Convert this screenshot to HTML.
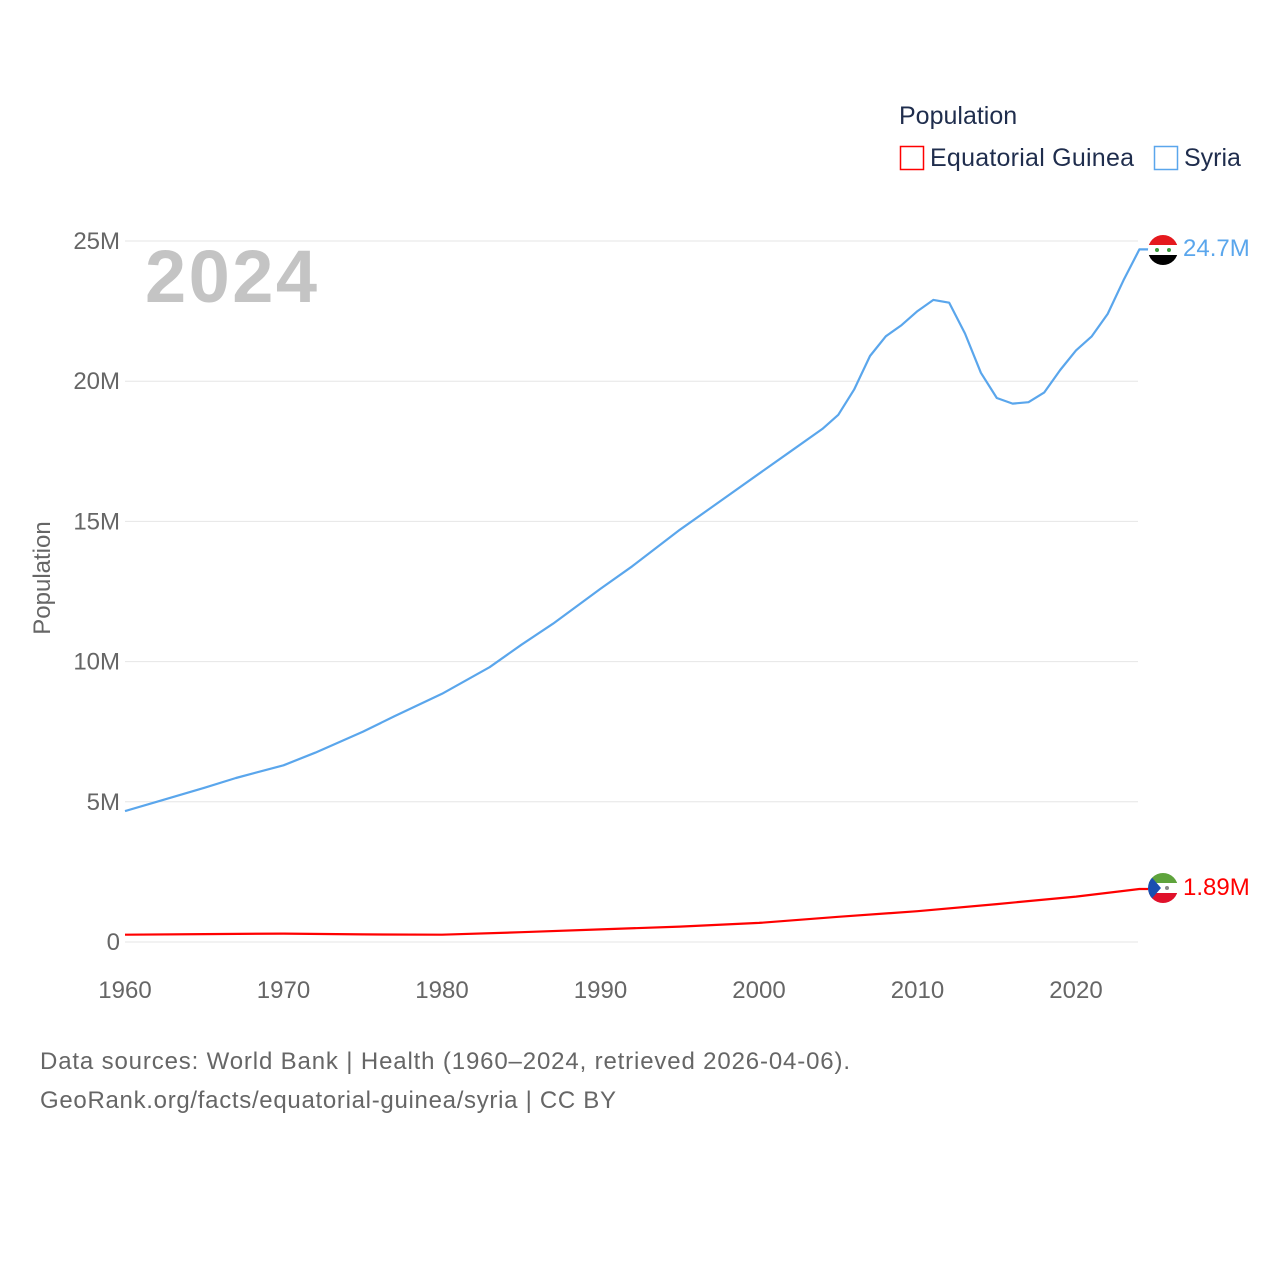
<!DOCTYPE html>
<html><head><meta charset="utf-8"><style>
body{margin:0;background:#fff;font-family:"Liberation Sans",sans-serif;}
svg text{font-family:"Liberation Sans",sans-serif;}
</style></head><body>
<svg id="chart" width="1280" height="1280" xmlns="http://www.w3.org/2000/svg">
<defs>
<clipPath id="c1"><circle cx="1163" cy="250" r="15"/></clipPath>
<clipPath id="c2"><circle cx="1163" cy="888" r="15"/></clipPath>
</defs>
<g id="grid"></g>
<text x="145" y="302" font-size="74" font-weight="bold" fill="#c4c4c4" textLength="172">2024</text>
<text transform="translate(50,578) rotate(-90)" text-anchor="middle" font-size="24" fill="#666">Population</text>
<g id="series"></g>
<g>
<text x="899" y="124" font-size="25" fill="#1f2d4d">Population</text>
<rect x="900.5" y="146.5" width="23" height="23" fill="none" stroke="#ff0000" stroke-width="1.5"/>
<text x="930" y="166" font-size="25" fill="#1f2d4d" textLength="204">Equatorial Guinea</text>
<rect x="1154.5" y="146.5" width="23" height="23" fill="none" stroke="#5aa6ec" stroke-width="1.5"/>
<text x="1184" y="166" font-size="25" fill="#1f2d4d">Syria</text>
</g>
<g clip-path="url(#c1)">
<rect x="1148" y="235" width="30" height="10" fill="#e5191e"/><rect x="1148" y="245" width="30" height="10" fill="#fff"/><rect x="1148" y="255" width="30" height="10" fill="#000"/>
<circle cx="1157" cy="250" r="2" fill="#3a9a3a"/><circle cx="1169" cy="250" r="2" fill="#3a9a3a"/>
</g>
<g clip-path="url(#c2)">
<rect x="1148" y="873" width="30" height="10" fill="#5ea33c"/><rect x="1148" y="883" width="30" height="10" fill="#fff"/><rect x="1148" y="893" width="30" height="10" fill="#e0112b"/>
<polygon points="1148,873 1161,888 1148,903" fill="#1a4fb0"/><circle cx="1167" cy="888" r="2" fill="#888"/>
</g>
<text x="1183" y="256" font-size="24" fill="#5aa6ec">24.7M</text>
<text x="1183" y="895" font-size="24" fill="#ff0000">1.89M</text>
<text x="40" y="1069" font-size="24" fill="#666" textLength="810">Data sources: World Bank | Health (1960–2024, retrieved 2026-04-06).</text>
<text x="40" y="1108" font-size="24" fill="#666" textLength="576">GeoRank.org/facts/equatorial-guinea/syria | CC BY</text>
</svg>
<script>
const years=[1960,1962,1965,1967,1970,1972,1975,1977,1980,1983,1985,1987,1990,1992,1995,1997,2000,2002,2004,2005,2006,2007,2008,2009,2010,2011,2012,2013,2014,2015,2016,2017,2018,2019,2020,2021,2022,2023,2024];
const syria=[4.67,5.0,5.5,5.85,6.3,6.75,7.5,8.05,8.85,9.8,10.6,11.35,12.6,13.4,14.7,15.5,16.7,17.5,18.3,18.8,19.7,20.9,21.6,22.0,22.5,22.9,22.8,21.7,20.3,19.4,19.2,19.25,19.6,20.4,21.1,21.6,22.4,23.6,24.7];
const eqYears=[1960,1965,1970,1975,1980,1985,1990,1995,2000,2005,2010,2015,2020,2024];
const eqGuinea=[0.26,0.28,0.3,0.27,0.26,0.35,0.45,0.55,0.68,0.9,1.1,1.35,1.62,1.89];
const yTicks=[0,5,10,15,20,25];
const yTickLabels=["0","5M","10M","15M","20M","25M"];
const xTicks=[1960,1970,1980,1990,2000,2010,2020];
const X=y=>125+(y-1960)*(1076-125)/60;
const Y=v=>942-v*(942-241)/25;
const NS="http://www.w3.org/2000/svg";
const grid=document.getElementById('grid');
const ser=document.getElementById('series');
function mk(t,a,p){const e=document.createElementNS(NS,t);for(const k in a)e.setAttribute(k,a[k]);p.appendChild(e);return e;}
yTicks.forEach((v,i)=>{
 const l=mk('line',{x1:125,x2:1138,y1:Y(v),y2:Y(v),stroke:'#e6e6e6','stroke-width':1},grid);
 
 
 const t=mk('text',{x:120,y:Y(v)+8,'text-anchor':'end','font-size':24,fill:'#666'},grid);
 t.textContent=yTickLabels[i];
 
 
});
xTicks.forEach(v=>{
 const t=mk('text',{x:X(v),y:998,'text-anchor':'middle','font-size':24,fill:'#666'},grid);
 t.textContent=v;
 
 
});
function line(xs,vs,color,name){
 let d=xs.map((y,i)=>(i?'L':'M')+X(y).toFixed(1)+','+Y(vs[i]).toFixed(1)).join(' ');
 d+=' L'+(X(xs[xs.length-1])+9).toFixed(1)+','+Y(vs[vs.length-1]).toFixed(1);
 const p=mk('path',{d:d,fill:'none',stroke:color,'stroke-width':2.2,'stroke-linejoin':'round'},ser);
 
 
}
line(years,syria,'#5aa6ec','syria-line');
line(eqYears,eqGuinea,'#ff0000','equatorial-guinea-line');
</script>
</body></html>
